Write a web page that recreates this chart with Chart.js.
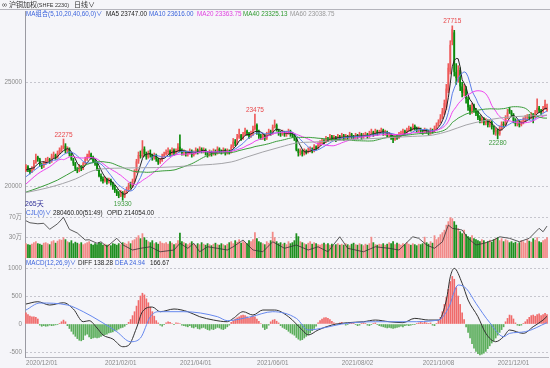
<!DOCTYPE html>
<html><head><meta charset="utf-8">
<script src="https://cdn.jsdelivr.net/npm/chart.js@4.4.1/dist/chart.umd.min.js"></script>
<style>
html,body{margin:0;padding:0;background:#f5f5f9;}
#wrap{position:relative;width:550px;height:368px;overflow:hidden;background:#f5f5f9;font-family:"Liberation Sans","Noto Sans CJK SC",sans-serif;}
canvas{position:absolute;left:0;z-index:1;}
.t{position:absolute;white-space:nowrap;font-size:6.3px;line-height:8px;z-index:2;}
</style></head><body>
<div id="wrap">
 <div style="position:absolute;left:0;top:9px;width:550px;height:1px;background:#b4b4bc;z-index:2"></div>
 <div class="t" style="left:2px;top:1px;font-size:7px;color:#333">∞ 沪铜加权<span style="font-size:5.5px">(SHFE 2230)</span></div>
 <div class="t" style="left:74px;top:1px;font-size:7px;color:#333">日线∨</div>
 <div class="t" style="left:26px;top:10px;color:#3c64dc">MA组合(5,10,20,40,60,0)∨</div>
 <div class="t" style="left:106px;top:10px;color:#222">MA5 23747.00</div>
 <div class="t" style="left:149px;top:10px;color:#3c64dc">MA10 23616.00</div>
 <div class="t" style="left:197px;top:10px;color:#e040e0">MA20 23363.75</div>
 <div class="t" style="left:243px;top:10px;color:#2f9a2f">MA40 23325.13</div>
 <div class="t" style="left:290px;top:10px;color:#999">MA60 23038.75</div>
 <div class="t" style="left:25px;top:200px;color:#333399;font-size:7px">265天</div>
 <div class="t" style="left:26px;top:209px;color:#3c64dc">CJL(0)∨</div>
 <div class="t" style="left:53px;top:209px;color:#222">280460.00(51:49)</div>
 <div class="t" style="left:107px;top:209px;color:#222">OPID 214054.00</div>
 <div class="t" style="left:26px;top:259px;color:#3c64dc">MACD(12,26,9)∨</div>
 <div class="t" style="left:78px;top:259px;color:#222">DIFF 138.28</div>
 <div class="t" style="left:115px;top:259px;color:#3c64dc">DEA 24.94</div>
 <div class="t" style="left:150px;top:259px;color:#222">166.67</div>
 <canvas id="cPrice" width="550" height="198" style="top:11px"></canvas>
 <canvas id="cVol" width="550" height="50" style="top:208px"></canvas>
 <canvas id="cMacd" width="550" height="110" style="top:258px"></canvas>
</div>
<script>
const N = 265;
const closeP = [
20950,20800,20700,20850,21150,21400,21300,21050,20980,21150,
21250,21300,21200,21450,21500,21400,21600,21750,21850,21950,
21700,21800,21550,21300,21100,20850,20750,20950,20850,21100,
21300,21450,21550,21350,21200,21100,20800,20500,20350,20250,
20350,20200,20300,20150,19950,19800,19650,19550,19700,19500,
19700,19850,20050,20000,20250,20700,21200,21500,21450,21800,
21550,21400,21600,21500,21350,21500,21300,21150,21250,21450,
21550,21650,21700,21550,21750,21600,21700,21900,21700,21600,
21650,21550,21600,21700,21500,21600,21750,21650,21800,21700,
21750,21600,21500,21650,21550,21700,21600,21800,21700,21650,
21750,21600,21700,21650,21900,22150,22050,22350,22450,22300,
22500,22650,22550,22400,22500,22750,22950,22600,22400,22350,
22450,22300,22500,22650,22550,22850,22950,22700,22550,22500,
22600,22500,22550,22650,22500,22450,22300,21750,21600,21700,
21550,21700,21650,21750,21800,21700,21900,21850,22000,22100,
22200,22150,22300,22250,22400,22300,22350,22250,22400,22350,
22450,22300,22400,22350,22500,22400,22350,22450,22400,22500,
22350,22450,22500,22400,22550,22600,22500,22650,22550,22600,
22700,22550,22600,22450,22500,22350,22250,22400,22350,22500,
22550,22650,22600,22700,22800,22750,22900,22800,22700,22750,
22650,22600,22700,22650,22550,22700,22650,22800,22950,23100,
23300,23600,24000,24700,25700,26800,27550,25500,25200,25600,
24800,24500,24700,24200,23800,23600,23900,23650,23500,23300,
23150,23250,23050,23150,22950,23100,22850,22600,22700,22500,
22800,23000,22950,23300,23550,23600,23450,23150,23000,23100,
22950,23050,23200,23300,23315,23300,23450,23350,23550,23775,
23650,23600,23750,23950,23785];
const openP = [
20800,20950,20800,20700,20850,21150,21400,21300,21050,20950,
21150,21250,21300,21200,21450,21500,21400,21600,21700,21850,
21950,21700,21800,21550,21300,21100,20850,20750,20950,20850,
21100,21300,21400,21550,21350,21200,21100,20800,20500,20350,
20250,20350,20200,20300,20150,19950,19800,19650,19550,19700,
19500,19700,19850,20050,20000,20250,20700,21200,21500,21450,
21800,21550,21400,21600,21500,21350,21500,21300,21150,21250,
21450,21550,21650,21700,21550,21750,21600,21700,21900,21700,
21600,21650,21550,21600,21700,21500,21600,21750,21650,21800,
21700,21750,21600,21500,21650,21550,21700,21600,21800,21700,
21650,21750,21600,21700,21650,21900,22150,22050,22350,22450,
22300,22500,22650,22550,22400,22500,22750,22950,22600,22400,
22350,22450,22300,22500,22650,22550,22850,22950,22700,22550,
22500,22600,22500,22550,22650,22500,22450,22300,21750,21600,
21700,21550,21700,21650,21750,21800,21700,21900,21850,22000,
22100,22200,22150,22300,22250,22400,22300,22350,22250,22400,
22350,22450,22300,22400,22350,22500,22400,22350,22450,22400,
22500,22350,22450,22500,22400,22550,22600,22500,22650,22550,
22600,22700,22550,22600,22450,22500,22350,22250,22400,22350,
22500,22550,22650,22600,22700,22800,22750,22900,22800,22700,
22750,22650,22600,22700,22650,22550,22700,22650,22800,22950,
23100,23300,23500,23800,24600,25500,26950,27400,25500,25200,
25600,24800,24500,24700,24200,23800,23600,23900,23650,23500,
23300,23150,23250,23050,23150,22950,23100,22850,22600,22700,
22500,22800,23000,22950,23300,23700,23600,23450,23150,23000,
23100,22950,23050,23200,23300,23350,23300,23450,23350,23550,
23775,23650,23600,23750,23650];
const highP = [
21050,21000,20850,20950,21250,21550,21450,21350,21100,21200,
21350,21400,21350,21550,21650,21550,21700,21850,21950,22275,
22050,21900,21850,21600,21350,21150,20900,21050,21000,21150,
21400,21550,21700,21600,21450,21300,21150,20850,20600,20450,
20450,20400,20400,20350,20200,20050,19850,19750,19800,19750,
19800,19950,20150,20200,20350,20800,21300,21650,21700,22200,
21900,21650,21700,21750,21550,21600,21550,21350,21350,21550,
21650,21750,21850,21750,21850,21800,21800,22050,22470,21800,
21750,21700,21700,21800,21750,21700,21850,21800,21900,21850,
21850,21800,21650,21750,21700,21800,21750,21900,21850,21750,
21850,21800,21800,21750,22000,22300,22250,22500,22750,22500,
22600,22800,22700,22600,22650,22900,23475,23000,22700,22500,
22550,22500,22600,22750,22700,22950,23190,23000,22750,22650,
22700,22650,22650,22750,22700,22600,22500,22350,21800,21800,
21750,21800,21750,21850,21900,21850,22000,21950,22100,22200,
22300,22250,22400,22350,22500,22450,22450,22400,22500,22450,
22550,22500,22500,22450,22600,22550,22450,22550,22500,22600,
22550,22550,22600,22550,22650,22750,22650,22750,22700,22700,
22800,22750,22700,22650,22600,22550,22400,22500,22450,22600,
22650,22750,22700,22800,22900,22850,23000,22950,22850,22850,
22800,22700,22800,22750,22700,22800,22750,22900,23050,23200,
23450,23750,24150,24900,25900,27000,27715,27500,25900,25800,
25700,25000,24900,24800,24300,23900,24000,23950,23750,23600,
23400,23350,23300,23250,23200,23200,23150,22900,22800,22750,
22900,23100,23100,23400,23700,23800,23650,23500,23250,23200,
23150,23150,23300,23400,23450,23450,23550,23500,23650,24200,
23850,23700,23850,24150,23950];
const lowP = [
20700,20700,20600,20650,20800,21100,21200,20950,20850,20900,
21050,21150,21100,21150,21350,21300,21350,21550,21650,21800,
21600,21600,21450,21250,21000,20750,20650,20700,20750,20800,
21050,21250,21350,21300,21150,21000,20750,20450,20250,20150,
20200,20100,20150,20050,19850,19700,19550,19450,19500,19330,
19450,19650,19800,19900,19950,20200,20650,21100,21350,21400,
21450,21300,21350,21400,21250,21300,21200,21050,21100,21200,
21400,21500,21550,21450,21500,21500,21550,21650,21650,21500,
21500,21450,21450,21550,21400,21450,21550,21550,21600,21600,
21600,21500,21400,21450,21450,21500,21500,21550,21600,21550,
21600,21500,21550,21550,21600,21850,21950,22000,22300,22200,
22250,22450,22450,22300,22350,22450,22700,22500,22300,22250,
22250,22200,22250,22450,22450,22500,22800,22650,22450,22400,
22450,22400,22400,22500,22400,22350,22200,21700,21450,21500,
21450,21500,21550,21600,21650,21600,21650,21750,21800,21950,
22050,22050,22100,22150,22200,22200,22250,22150,22200,22250,
22300,22200,22250,22250,22300,22300,22250,22300,22300,22350,
22250,22300,22400,22300,22350,22500,22400,22450,22450,22500,
22550,22450,22450,22350,22350,22250,22100,22200,22250,22300,
22400,22500,22500,22550,22650,22650,22700,22700,22600,22600,
22550,22500,22550,22550,22450,22500,22550,22600,22750,22900,
23050,23250,23450,23700,24500,25400,26800,25300,24900,25000,
24600,24300,24350,24000,23650,23450,23500,23550,23400,23200,
23050,23050,22950,22950,22850,22850,22750,22500,22450,22280,
22450,22700,22850,22900,23250,23500,23350,23050,22900,22900,
22850,22900,23000,23100,23200,23200,23250,23050,23300,23500,
23550,23450,23550,23700,23600];
// volume in 万手
const volume = [
18,16,15,17,20,22,18,17,15,19, 20,18,16,22,24,19,23,26,25,30,
26,22,20,24,18,21,19,17,20,16, 18,20,22,17,15,18,16,20,19,15,
17,15,16,14,18,17,15,18,16,20, 19,17,22,18,24,26,30,34,28,38,
30,25,22,20,24,18,20,17,22,19, 18,20,17,22,19,16,18,24,39,22,
20,18,16,19,22,17,15,18,16,20, 17,15,18,16,14,17,19,16,15,18,
16,14,17,20,22,18,24,21,26,19, 22,20,18,24,22,26,40,28,22,20,
18,16,22,19,24,41,30,22,18,20, 17,19,16,22,18,20,24,38,32,22,
20,18,16,19,22,17,20,18,16,15, 17,19,16,18,15,17,14,16,18,15,
17,15,18,16,14,17,19,16,15,18, 16,14,17,15,18,31,20,16,15,17,
16,18,15,17,20,18,22,16,19,17, 15,18,16,20,17,15,18,16,14,17,
16,18,31,20,17,22,19,34,26,30, 36,40,45,55,62,70,68,62,55,48,
42,38,45,36,32,30,34,28,26,24, 22,26,24,20,22,25,21,26,28,30,
24,28,22,26,24,20,22,19,21,18, 20,24,22,19,26,23,21,28,25,30,
22,20,24,26,30];
// open interest (万手), read at sampled days
const oiIdx = [0,2,6,9,12,16,19,22,26,30,32,36,38,41,46,49,54,58,63,68,75,78,82,85,88,92,97,102,105,110,115,120,125,131,137,143,148,153,159,163,171,177,184,189,196,199,203,207,211,214,216,221,224,228,232,237,240,245,250,255,260,262,264];
const oiVal = [22.10,21.84,21.71,21.77,20.99,21.71,22.55,20.99,20.51,19.60,19.63,19.17,19.37,18.72,19.82,18.98,18.30,18.52,18.72,18.07,18.30,19.17,18.52,19.17,18.07,18.72,18.52,18.30,18.72,19.60,18.30,18.07,19.37,18.52,18.95,18.30,18.72,18.07,20.02,18.52,18.07,18.72,18.52,18.30,20.02,19.82,18.95,18.52,19.37,21.55,21.12,20.90,19.82,18.95,19.17,19.60,20.02,19.82,19.37,19.82,21.12,20.67,21.41];
// moving-average values read from the picture where the window is not yet full
const ma5HeadIdx = [0,2], ma5HeadVal = [20780,20850];
const ma10HeadIdx = [0,4,8], ma10HeadVal = [20460,20750,21050];
const ma20HeadIdx = [0,6,12,18], ma20HeadVal = [20110,20600,20940,21300];
const ma40HeadIdx = [0,7,16,25,33], ma40HeadVal = [19720,19950,20300,20780,21120];
const ma60Idx = [0,12,25,34,45,66,85,104,112,120,129,137,146,163,180,196,206,214,223,232,240,248,264];
const ma60Val = [19700,19950,20350,20750,20870,20900,21000,21170,21410,21650,21890,22080,22130,22230,22320,22400,22460,22650,22950,23150,23280,23350,23420];
const macdHist = [
200,170,140,130,130,120,90,-20,-40,-30, -40,-35,-20,-30,-25,-15,-10,10,40,70,
40,-30,-80,-130,-180,-220,-260,-290,-300,-280, -200,-180,-230,-260,-250,-240,-250,-240,-220,-200,
-190,-180,-160,-150,-140,-120,-110,-90,-70,-60, -40,-10,30,80,150,220,320,420,500,550,
520,450,380,300,220,140,60,20,-20,-40, -10,20,40,30,10,-10,20,15,10,-20,
-30,-40,-50,-30,-60,-70,-50,-80,-90,-70, -60,-80,-100,-110,-90,-100,-80,-60,-70,-90,
-100,-80,-50,-20,30,60,90,110,130,150, 160,150,130,100,120,140,130,90,50,10,
-60,-100,-80,-20,40,70,80,50,20,-30, -60,-80,-100,-130,-160,-180,-200,-240,-270,-290,
-280,-250,-220,-190,-160,-120,-80,-40,20,60, 90,110,115,100,80,50,20,10,-10,20,
30,10,-20,-10,20,30,20,-10,-30,-20, 10,20,10,-20,-30,-10,10,20,-10,-30,
-40,-50,-60,-70,-60,-70,-80,-70,-60,-50, -40,-50,-30,-20,-30,-20,-10,-10,10,20,
30,20,30,20,10,20,-20,-30,10,60, 120,220,350,480,620,760,850,800,650,500,
350,200,80,-50,-150,-250,-350,-430,-490,-530, -550,-540,-520,-490,-440,-390,-340,-300,-250,-200,
-150,-100,-50,40,100,160,150,90,20,-20, -30,-20,10,40,80,120,150,160,140,170,
180,150,170,190,167];
const diffIdx = [0,6,12,19,24,29,32,36,39,44,49,52,56,59,64,68,75,82,88,95,102,105,110,115,120,126,133,140,143,148,155,163,171,177,184,191,197,204,209,213,215,217,221,224,229,233,238,242,245,252,257,262,264];
const diffVal = [357,398,339,380,268,41,60,-71,-196,-268,-405,-380,-71,220,303,220,268,220,131,71,41,100,220,161,250,250,131,-107,-196,-107,-18,24,41,71,41,24,101,71,71,429,845,994,727,429,131,-167,-316,-226,-107,-167,-48,71,138];
const deaIdx = [0,7,21,29,38,46,53,58,63,67,80,97,102,114,125,137,143,152,160,177,194,209,214,219,223,228,235,242,245,253,264];
const deaVal = [250,375,339,220,41,-137,-316,-250,131,220,220,131,60,131,220,101,-107,-60,0,41,41,71,280,697,637,369,24,-226,-167,-137,25];
const xTickIdx = [0,40,78,117,160,201,239];
const xTickLabels = ['2020/12/01','2021/02/01','2021/04/01','2021/06/01','2021/08/02','2021/10/08','2021/12/01'];
const priceTicks = [20000,25000];
const volTicks = [30,70], volTickLabels = ['30万','70万'];
const macdTicks = [-500,0,500,1000];
const markIdx = [19,49,116,216,239];
const markKind = ['high','low','high','high','low'];

const labels = closeP.map((_, i) => String(i));
function sparse(idx, val){ const a = new Array(N).fill(null); idx.forEach((k,j)=>{ a[k]=val[j]; }); return a; }
function movingAvg(n, hIdx, hVal){
  const out = sparse(hIdx, hVal);
  for (let i = n-1; i < N; i++){ let s = 0; for (let k = i-n+1; k <= i; k++) s += closeP[k]; out[i] = s/n; }
  return out;
}
const up = closeP.map((c,i)=> c >= openP[i]);
const FONT = '"Liberation Sans", "Noto Sans CJK SC", sans-serif';
const tickFont = {size: 6.3, family: FONT};
const GRID = '#c6c6ce';
function fixY(w){ return s => { s.width = w; s.paddingTop = 0; s.paddingBottom = 0; }; }
function setTicks(vals){ return s => { s.ticks = vals.map(v => ({value: v})); }; }
const baseOpts = {responsive:false, animation:false, devicePixelRatio:1, events:[],
  plugins:{legend:{display:false}, tooltip:{enabled:false}}};
function lineDs(data, color, extra){ return Object.assign({type:'line', data, borderColor:color, borderWidth:1, pointRadius:0, spanGaps:true, fill:false, order:0}, extra||{}); }

const markPlugin = {id:'marks', afterDatasetsDraw(chart){
  const {ctx, scales:{x, y}} = chart;
  ctx.save(); ctx.font = '6.5px ' + FONT; ctx.textAlign = 'center';
  markIdx.forEach((k, j) => {
    const hi = markKind[j] === 'high';
    const v = hi ? highP[k] : lowP[k];
    const px = x.getPixelForValue(k), py = y.getPixelForValue(v);
    ctx.fillStyle = hi ? '#e8474a' : '#3d9a3d';
    ctx.textBaseline = hi ? 'bottom' : 'top';
    ctx.fillText(String(v), px, hi ? py - 1 : py + 1);
  });
  ctx.restore();
}};

// ---------- price panel ----------
new Chart(document.getElementById('cPrice'), {
  type:'bar',
  data:{labels, datasets:[
    {data: closeP.map((_,i)=>[lowP[i], highP[i]]), backgroundColor: up.map(u=>u?'#ee5a5a':'#0b8a0b'), barThickness:1, grouped:false, order:3},
    {data: closeP.map((c,i)=>[Math.min(c,openP[i]), Math.max(c,openP[i])]), backgroundColor: up.map(u=>u?'#ee5a5a':'#0b8a0b'), barPercentage:0.85, categoryPercentage:1, grouped:false, minBarLength:1, order:2},
    lineDs(sparse(ma60Idx, ma60Val), '#a4a4a8', {cubicInterpolationMode:'monotone'}),
    lineDs(movingAvg(40, ma40HeadIdx, ma40HeadVal), '#3a9c3a', {cubicInterpolationMode:'monotone'}),
    lineDs(movingAvg(20, ma20HeadIdx, ma20HeadVal), '#ee44ee', {cubicInterpolationMode:'monotone'}),
    lineDs(movingAvg(10, ma10HeadIdx, ma10HeadVal), '#5b7fe8'),
    lineDs(movingAvg(5, ma5HeadIdx, ma5HeadVal), '#222222')
  ]},
  options: Object.assign({}, baseOpts, {
    layout:{padding:{left:0, right:2, top:0, bottom:3}},
    scales:{
      x:{type:'category', display:false, offset:true},
      y:{min:19053, max:28428, afterBuildTicks:setTicks(priceTicks), afterFit:fixY(25),
         ticks:{color:'#8a8a8a', font:tickFont, padding:3, callback:v=>String(v)},
         grid:{color:GRID, drawTicks:false}, border:{display:true, color:'#9a9aa2', dash:[2,2]}}
    }
  }),
  plugins:[markPlugin]
});

// ---------- volume / open interest panel ----------
const VMIN = -11.4;
new Chart(document.getElementById('cVol'), {
  type:'bar',
  data:{labels, datasets:[
    {data: volume.map(v=>[VMIN, v]), backgroundColor: up.map(u=>u?'#f28a88':'#1f8f1f'), barPercentage:0.9, categoryPercentage:1, order:2},
    lineDs(sparse(oiIdx, oiVal), '#333333', {yAxisID:'yOI', borderWidth:0.8})
  ]},
  options: Object.assign({}, baseOpts, {
    layout:{padding:{left:0, right:2, top:0, bottom:0}},
    scales:{
      x:{type:'category', display:false, offset:true},
      y:{min:VMIN, max:88.6, afterBuildTicks:setTicks(volTicks), afterFit:fixY(25),
         ticks:{color:'#8a8a8a', font:tickFont, padding:3, callback:v=>volTickLabels[volTicks.indexOf(v)]},
         grid:{color:GRID, drawTicks:false}, border:{display:true, color:'#9a9aa2', dash:[2,2]}},
      yOI:{display:false, min:17.26, max:23.76}
    }
  })
});

// ---------- MACD panel ----------
new Chart(document.getElementById('cMacd'), {
  type:'bar',
  data:{labels, datasets:[
    {data: macdHist, backgroundColor: macdHist.map(v=>v>=0?'#f06a6a':'#5aad5a'), barThickness:1, order:2},
    lineDs(sparse(deaIdx, deaVal), '#6688ee', {cubicInterpolationMode:'monotone'}),
    lineDs(sparse(diffIdx, diffVal), '#333333', {cubicInterpolationMode:'monotone'})
  ]},
  options: Object.assign({}, baseOpts, {
    layout:{padding:{left:0, right:2, top:0, bottom:0}},
    scales:{
      x:{type:'category', offset:true, grid:{display:false, drawTicks:false},
         border:{display:true, color:'#b8b8c0'},
         ticks:{autoSkip:false, maxRotation:0, minRotation:0, align:'start', padding:2, color:'#8a8a8a', font:tickFont,
                callback:(v,i)=>{ const k = xTickIdx.indexOf(i); return k >= 0 ? xTickLabels[k] : ''; }},
         afterFit: s => { s.height = 11; s.paddingLeft = 0; s.paddingRight = 0; }},
      y:{min:-589, max:1179, afterBuildTicks:setTicks(macdTicks), afterFit:fixY(25),
         ticks:{color:'#8a8a8a', font:tickFont, padding:3, callback:v=>String(v)},
         grid:{color:c=> (c.tick && c.tick.value===0) ? 'rgba(0,0,0,0)' : GRID, drawTicks:false},
         border:{display:true, color:'#9a9aa2', dash:[2,2]}}
    }
  })
});
</script>
</body></html>
